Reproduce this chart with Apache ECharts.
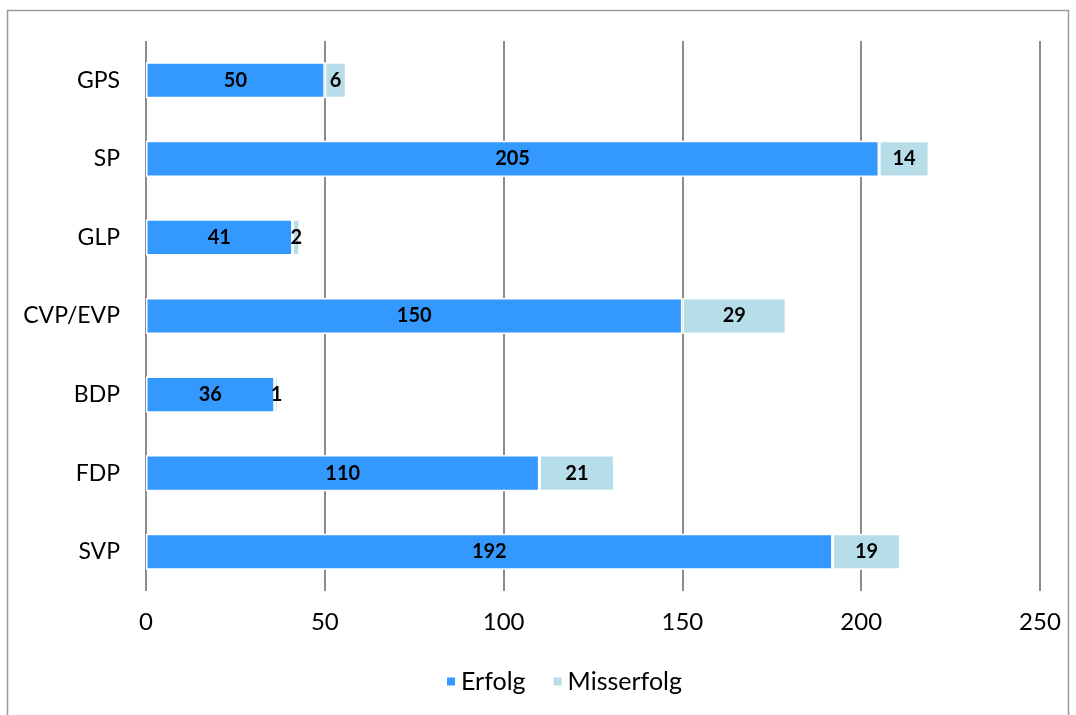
<!DOCTYPE html>
<html><head><meta charset="utf-8">
<script src="https://cdn.jsdelivr.net/npm/echarts@6/dist/echarts.min.js"></script>
<style>html,body{margin:0;padding:0;background:#fff}#c{width:1076px;height:715px}</style>
</head><body><div id="c"></div>
<script>
const categories = ['GPS','SP','GLP','CVP/EVP','BDP','FDP','SVP'];
const erfolg = [50,205,41,150,36,110,192];
const misserfolg = [6,14,2,29,1,21,19];
const xTicks = [0,50,100,150,200,250];

const chart = echarts.init(document.getElementById('c'));
const font = 'Lato, "Open Sans", sans-serif';
const lbl = {show:true, position:'inside', color:'#000', fontWeight:'bold', fontSize:20, fontFamily:font};
chart.setOption({
  animation:false,
  graphic:[{type:'rect', shape:{x:7.5,y:10.5,width:1061,height:720}, style:{fill:'none', stroke:'#9a9a9a', lineWidth:1.5}}],
  grid:{left:146, right:36, top:41, bottom:124},
  legend:{bottom:16, left:440, itemWidth:10, itemHeight:10, itemGap:26, itemTextGap:11, icon:'rect',
    textStyle:{fontSize:25, fontFamily:font, color:'#000'}},
  xAxis:{type:'value', min:xTicks[0], max:xTicks[xTicks.length-1], interval:50,
    axisLine:{show:false}, axisTick:{show:false},
    axisLabel:{fontSize:24, fontFamily:font, color:'#000', margin:19},
    splitLine:{show:true, lineStyle:{color:'#8c8c8c', width:2}}},
  yAxis:{type:'category', data:categories, inverse:true,
    axisLine:{show:false}, axisTick:{show:false},
    axisLabel:{fontSize:23, fontFamily:font, color:'#000', margin:26}},
  series:[
    {name:'Erfolg', type:'bar', stack:'a', data:erfolg, barWidth:'46%',
      itemStyle:{color:'#3399FF', borderColor:'#fff', borderWidth:1.5}, label:lbl},
    {name:'Misserfolg', type:'bar', stack:'a', data:misserfolg,
      itemStyle:{color:'#B7DDE8', borderColor:'#fff', borderWidth:1.5}, label:lbl}
  ]
});
</script></body></html>
